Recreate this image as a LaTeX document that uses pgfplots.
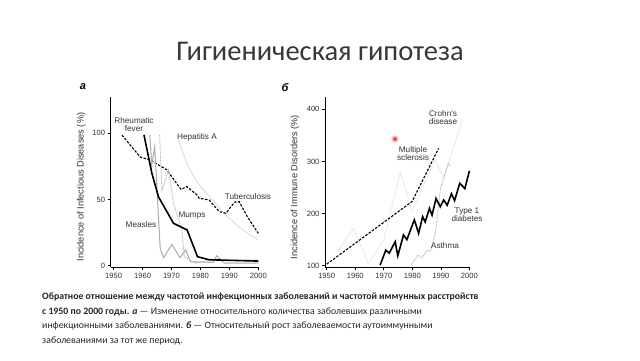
\documentclass[border=0pt]{standalone}
\usepackage{pgfplots}
\pgfplotsset{compat=1.18}
\usepackage{fontspec}
\setmainfont{Carlito}
\newfontfamily\hv{Liberation Sans}
\definecolor{lab}{HTML}{333333}
\pgfplotsset{
  panel/.style={
    scale only axis, anchor=south west,
    axis x line*=bottom, axis y line*=left,
    axis line style={black, line width=0.8pt},
    tick align=outside, major tick length=3pt,
    tick style={black, line width=0.7pt},
    /pgf/number format/assume math mode=true,
    /pgf/number format/1000 sep={},
    ticklabel style={font=\hv\fontsize{7.6}{8}\selectfont, text=lab},
    xticklabel style={yshift=1pt},
    yticklabel style={xshift=1pt},
    label style={font=\hv\fontsize{9.2}{10}\selectfont, text=lab},
    xtick={1950,1960,...,2000},
    clip=false,
  }
}
\begin{document}
\begin{tikzpicture}
\useasboundingbox[fill=white] (0,0) rectangle (640pt,-360pt);
% title
\node[anchor=center, font=\fontsize{28.5}{32}\selectfont, text={black!78}] at (320pt,-51pt) {Гигиеническая гипотеза};

% left panel
\begin{axis}[panel, at={(110.7pt,-267.3pt)}, width=147.6pt, height=170.6pt,
  xmin=1949, xmax=2000, ymin=-1.2, ymax=127.5, ytick={0,50,100},
  ylabel={Incidence of Infectious Diseases (\%)},
  ylabel style={at={(axis description cs:-0.2,0.47)}, anchor=center}]
\addplot[gray!25, line width=1pt, smooth] coordinates {(1972.4,95)(1974,85)(1976.5,72)(1980,60)(1984,50)(1989,38)(1994,28)(2000,19.5)};
\addplot[black, line width=1.1pt, dash pattern=on 2.5pt off 1.5pt] coordinates {(1952.9,98.5)(1959.2,82)(1962.9,79.5)(1968.4,72.3)(1973.3,57.5)(1975.3,59.7)(1978.8,53.4)(1979.5,51)(1983,49.6)(1986.5,40.8)(1988.8,39.6)(1991.8,48)(1993.4,48.3)(1996.2,37)(2000,24.4)};
\addplot[gray!55, line width=0.9pt, dash pattern=on 1.5pt off 1pt] coordinates {(1965.9,98.7)(1966.7,57)(1969,72)(1970.7,47)(1973.6,27)(1974.4,6.8)(1978.2,1.8)(1983.3,4.3)(2000,4.3)};
\addplot[gray!65, line width=1pt] coordinates {(1962.5,98.7)(1963.2,76)(1964.2,90)(1966.1,13)(1967.3,6)(1970.1,16)(1973,6)(1974.9,12)(1976.6,3)(1984.5,2.5)(1985.6,7.5)(1988.3,2)(2000,2)};
\addplot[black, line width=1.6pt] coordinates {(1960.5,98.7)(1963.2,70)(1965.5,52)(1970.7,32)(1975.4,27)(1979,6.8)(1983,4.5)(2000,3.5)};
\end{axis}
\node[font=\hv\bfseries\itshape\fontsize{11}{12}\selectfont] at (83pt,-87pt) {a};
\begin{scope}[every node/.style={font=\hv\fontsize{8.2}{9}\selectfont, text=lab, align=center, inner sep=0pt}]
\node at (134pt,-125pt) {Rheumatic\\[-1pt]fever};
\node at (197pt,-137pt) {Hepatitis A};
\node at (248pt,-197pt) {Tuberculosis};
\node at (192pt,-216pt) {Mumps};
\node at (141pt,-225pt) {Measles};
\end{scope}

% right panel
\begin{axis}[panel, at={(325pt,-267.3pt)}, width=145pt, height=170.6pt,
  xmin=1949.4, xmax=2000.2, ymin=97, ymax=424, ytick={100,200,300,400},
  ylabel={Incidence of Immune Disorders (\%)},
  ylabel style={at={(axis description cs:-0.207,0.47)}, anchor=center}]
\addplot[gray!15, line width=1pt] coordinates {(1953.5,125)(1959.4,172)(1964.6,104)(1970,150)(1975.8,280)(1979.9,205)(1988,303)(1991,268)(1997.5,380)};
\addplot[black, line width=1.1pt, dash pattern=on 2.5pt off 1.5pt] coordinates {(1950,103)(1979.9,223)(1989.2,325)};
\addplot[gray!55, line width=0.9pt, dash pattern=on 1.5pt off 1pt] coordinates {(1979.6,102)(1982,120)(1983.4,116)(1985.1,130)(1986.3,128)(1988,160)(1989.9,250)(1992.6,296)(1993.4,290)};
\addplot[black, line width=1.6pt] coordinates {(1968.7,101)(1970.7,130)(1971.9,124)(1974,146)(1974.9,119)(1976.9,159)(1978.1,150)(1980.7,188)(1982.2,162)(1983.6,194)(1984.5,184)(1986,210)(1986.9,197)(1988.3,229)(1989.8,213)(1991,226)(1992.2,216)(1993.7,238)(1994.8,225)(1996.6,258)(1998.4,248)(2000,282)};
\end{axis}
\node[font=\hv\bfseries\itshape\fontsize{11}{12}\selectfont] at (285pt,-88pt) {б};
\begin{scope}[every node/.style={font=\hv\fontsize{8.2}{9}\selectfont, text=lab, align=center, inner sep=0pt}]
\node at (443pt,-118pt) {Crohn's\\[-1pt]disease};
\node at (413pt,-154pt) {Multiple\\[-1pt]sclerosis};
\node at (467pt,-215pt) {Type 1\\[-1pt]diabetes};
\node at (445pt,-246pt) {Asthma};
\end{scope}
\fill[red!45, opacity=0.7] (395pt,-139pt) circle (3.5pt);
\draw[red!70!black, line width=0.5pt] (395pt,-139pt) circle (1.2pt);

% caption
\node[anchor=north west, align=left, font=\fontsize{9.8}{14.4}\selectfont, text={black!85}, inner sep=0pt] at (42pt,-293pt)
{\textbf{Обратное отношение между частотой инфекционных заболеваний и частотой иммунных расстройств}\\
\textbf{с 1950 по 2000 годы.} \textbf{\textit{а}} — Изменение относительного количества заболевших различными\\
инфекционными заболеваниями. \textbf{\textit{б}} — Относительный рост заболеваемости аутоиммунными\\
заболеваниями за тот же период.};
\end{tikzpicture}
\end{document}
